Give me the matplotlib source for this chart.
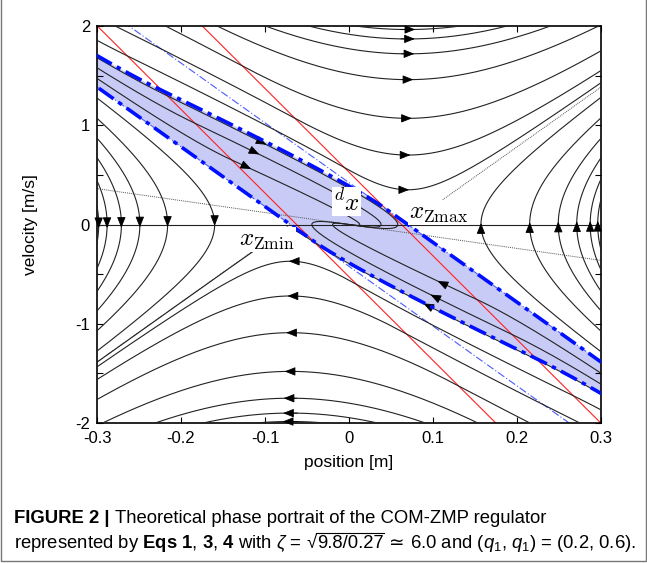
import numpy as np
import matplotlib
matplotlib.use("Agg")
import matplotlib.pyplot as plt
from matplotlib.patches import Rectangle
from matplotlib.lines import Line2D

plt.rcParams['font.family'] = ['Liberation Sans', 'DejaVu Sans']
plt.rcParams['mathtext.fontset'] = 'custom'
plt.rcParams['mathtext.rm'] = 'Liberation Sans'
plt.rcParams['mathtext.it'] = 'Liberation Sans:italic'
plt.rcParams['mathtext.bf'] = 'Liberation Sans:bold'

zeta = np.sqrt(9.8 / 0.27)
q1, q2 = 0.2, 0.6
xd = 0.0
zmin, zmax = -0.07, 0.07

# trajectory seeds (each is where an arrow sits)
top_v = [1.965, 1.87, 1.72, 1.46, 1.07, 0.70, 0.35]           # at x = zmax, moving right
bottom_v = [-0.37, -0.72, -1.09, -1.48, -1.75, -1.90, -1.985]  # at x = zmin, moving left
right_x = [0.157, 0.215, 0.249, 0.271, 0.287, 0.296]           # at v = 0, moving up
left_x = [-0.160, -0.216, -0.249, -0.271, -0.288, -0.298]      # at v = 0, moving down
band_x = [-0.102, -0.110, -0.119, 0.092, 0.100, 0.108]
band_v = [0.82, 0.72, 0.57, -0.81, -0.72, -0.58]


def field(x, v):
    z = xd + (1 + q1 * q2) * (x - xd) + (q1 + q2) / zeta * v
    z = min(max(z, zmin), zmax)
    return v, zeta ** 2 * (x - z)


def trace(x, v, sign, dt=0.0015, n=6000):
    xs, vs = [x], [v]
    for _ in range(n):
        a1, b1 = field(x, v)
        a2, b2 = field(x + sign * dt / 2 * a1, v + sign * dt / 2 * b1)
        a3, b3 = field(x + sign * dt / 2 * a2, v + sign * dt / 2 * b2)
        a4, b4 = field(x + sign * dt * a3, v + sign * dt * b3)
        x += sign * dt / 6 * (a1 + 2 * a2 + 2 * a3 + a4)
        v += sign * dt / 6 * (b1 + 2 * b2 + 2 * b3 + b4)
        xs.append(x)
        vs.append(v)
        if abs(x) > 0.34 or abs(v) > 2.3 or (abs(x) < 2e-4 and abs(v) < 2e-3):
            break
    return np.array(xs), np.array(vs)


def full(x, v):
    bx, bv = trace(x, v, -1)
    fx, fv = trace(x, v, 1)
    return np.r_[bx[::-1], fx[1:]], np.r_[bv[::-1], fv[1:]]


fig = plt.figure(figsize=(6.47, 5.63), dpi=100)
ax = fig.add_axes([0.150, 0.2487, 0.779, 0.705])

# separatrix = stable manifold of the saddle at (zmax, 0)
eps = 1e-5
sx, sv = trace(zmax - eps, zeta * eps, -1, dt=0.001)
xr = np.linspace(zmax, 0.34, 50)
up_x = np.r_[sx[::-1], xr]
up_v = np.r_[sv[::-1], -zeta * (xr - zmax)]
lo_x, lo_v = -up_x, -up_v

ax.fill(np.r_[up_x, lo_x], np.r_[up_v, lo_v],
        facecolor='#c9cbf7', edgecolor='none', zorder=1)

seeds = ([(zmax, v) for v in top_v] + [(zmin, v) for v in bottom_v] +
         [(x, 0.0) for x in right_x] + [(x, 0.0) for x in left_x] +
         list(zip(band_x, band_v)))
for x0, v0 in seeds:
    tx, tv = full(x0, v0)
    ax.plot(tx, tv, color='#222222', lw=0.8, zorder=3)
    i = np.argmin(np.hypot(tx - x0, (tv - v0) / 7))
    j = min(i + 3, len(tx) - 1)
    ax.annotate('', xy=(tx[j], tv[j]), xytext=(tx[i - 3], tv[i - 3]),
                arrowprops=dict(arrowstyle='-|>,head_length=0.55,head_width=0.22',
                                color='black', lw=0.6, shrinkA=0, shrinkB=0,
                                mutation_scale=12), zorder=4)

xx = np.linspace(-0.34, 0.34, 200)
# ZMP saturation boundaries
for zb in (zmin, zmax):
    ax.plot(xx, zeta / (q1 + q2) * ((zb - xd) - (1 + q1 * q2) * (xx - xd)),
            color='#ff2020', lw=0.8, zorder=2)
# capture limits
for zb in (zmin, zmax):
    ax.plot(xx, -zeta * (xx - zb), color='#4a5cff', lw=0.8,
            dashes=(7, 2, 1, 2), zorder=2)
# slow eigen-direction and unstable directions of the saddles
ax.plot(xx, -zeta * q1 * (xx - xd), color='#555555', lw=0.7, ls=(0, (1, 1)), zorder=2)
xl = np.linspace(-0.34, zmin, 50)
ax.plot(xl, zeta * (xl - zmin), color='#555555', lw=0.7, ls=(0, (1, 1)), zorder=2)
xr2 = np.linspace(zmax, 0.34, 50)
ax.plot(xr2, zeta * (xr2 - zmax), color='#555555', lw=0.7, ls=(0, (1, 1)), zorder=2)

ax.plot(up_x, up_v, color='#0010ff', lw=2.6, dashes=(5, 1.6, 1.2, 1.6), zorder=5)
ax.plot(lo_x, lo_v, color='#0010ff', lw=2.6, dashes=(5, 1.6, 1.2, 1.6), zorder=5)
ax.axhline(0, color='#222222', lw=0.8, zorder=3)

box = dict(facecolor='white', edgecolor='none', pad=0.5)
ax.text(0.071, 0.0, r'$x_{\rm Zmax}$', math_fontfamily='cm', fontsize=18,
        ha='left', va='bottom', bbox=box, zorder=6)
ax.text(-0.131, -0.03, r'$x_{\rm Zmin}$', math_fontfamily='cm', fontsize=18,
        ha='left', va='top', bbox=box, zorder=6)
ax.text(-0.019, 0.09, r'${}^{d}x$', math_fontfamily='cm', fontsize=18,
        ha='left', va='bottom', bbox=box, zorder=6)

ax.set_xlim(-0.3, 0.3)
ax.set_ylim(-2, 2)
ax.set_xticks(np.arange(-0.3, 0.31, 0.1))
ax.set_xticklabels(['-0.3', '-0.2', '-0.1', '0', '0.1', '0.2', '0.3'])
ax.set_yticks(np.arange(-2, 2.01, 0.5))
ax.set_yticklabels(['-2', '', '-1', '', '0', '', '1', '', '2'])
ax.tick_params(direction='in', top=True, right=True, length=4, width=0.8,
               labelsize=12, pad=4)
ax.tick_params(axis='x', pad=6)
ax.tick_params(axis='y', pad=5)
for sp in ax.spines.values():
    sp.set_linewidth(1.2)
ax.set_xlabel('position [m]', fontsize=12.5, labelpad=6)
ax.set_ylabel('velocity [m/s]', fontsize=12.5, labelpad=27)

# caption, written piece by piece
r = fig.canvas.get_renderer()
W, H = fig.bbox.width, fig.bbox.height
fs = 13.3


def put(s, x, y, **kw):
    kw.setdefault('math_fontfamily', 'custom')
    t = fig.text(x, y, s, fontsize=fs, va='baseline', **kw)
    return t.get_window_extent(r).x1 / W


gap = 0.28 * fs * 100 / 72 / W
y1, y2 = 1 - 523 / H, 1 - 548 / H
x = put('FIGURE 2 |', 14 / W, y1, weight='bold')
put('Theoretical phase portrait of the COM-ZMP regulator', x + gap, y1)

x = put(r'represented by $\mathbf{Eqs\ 1}$, $\mathbf{3}$, $\mathbf{4}$ with $\zeta$ =', 14 / W, y2)
xs = put('\u221a', x + gap, y2)
xe = put('9.8/0.27', xs, y2)
ytop = y2 + 0.80 * fs * 100 / 72 / H
fig.add_artist(Line2D([xs - 0.001, xe], [ytop, ytop], color='black', lw=0.8,
                      transform=fig.transFigure))
x = put('\u2243', xe + gap, y2, family='DejaVu Sans')
put(r'6.0 and ($q_1$, $q_1$) = (0.2, 0.6).', x + gap, y2)

fig.patches.append(Rectangle((0.002, 0.003), 0.996, 1.2, transform=fig.transFigure,
                             fill=False, edgecolor='#777777', lw=1))

fig.savefig('out.png', dpi=100)
